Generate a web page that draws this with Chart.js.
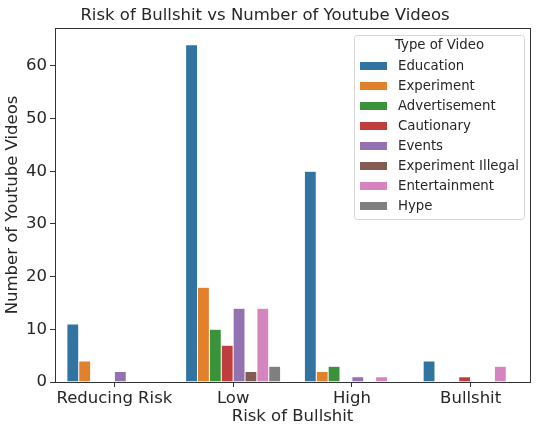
<!DOCTYPE html>
<html>
<head>
<meta charset="utf-8">
<script src="https://cdn.jsdelivr.net/npm/chart.js@4/dist/chart.umd.min.js"></script>
<style>
html,body{margin:0;padding:0;background:#fff;}
#wrap{width:547px;height:427px;}
</style>
</head>
<body>
<div id="wrap"><canvas id="c" width="547" height="427"></canvas></div>
<script>
const categories = ["Reducing Risk", "Low", "High", "Bullshit"];
const seriesNames = ["Education", "Experiment", "Advertisement", "Cautionary", "Events", "Experiment Illegal", "Entertainment", "Hype"];
const education     = [11, 64, 40, 4];
const experiment    = [4, 18, 2, 0];
const advertisement = [0, 10, 3, 0];
const cautionary    = [0, 7, 0, 1];
const events        = [2, 14, 1, 0];
const expIllegal    = [0, 2, 0, 0];
const entertainment = [0, 14, 1, 3];
const hype          = [0, 3, 0, 0];
const yTicks = [0, 10, 20, 30, 40, 50, 60];
const colors = ["#3274A1", "#E1812C", "#3A923A", "#C03D3E", "#9372B2", "#845B53", "#D684BD", "#7F7F7F"];
const seriesValues = [education, experiment, advertisement, cautionary, events, expIllegal, entertainment, hype];

const FONT = "'DejaVu Sans', sans-serif";
const TXT = '#262626';
const FS = 16.5;

const frame = {
  id: 'frame',
  afterDraw(chart) {
    const {ctx, chartArea: a} = chart;
    ctx.save();
    ctx.strokeStyle = '#333';
    ctx.lineWidth = 1;
    ctx.strokeRect(Math.round(a.left) + 0.5, Math.round(a.top) + 0.5, Math.round(a.right - a.left), Math.round(a.bottom - a.top));
    // legend
    const x0 = 354.5, y0 = 35.5, w = 170, h = 184;
    ctx.fillStyle = 'rgba(255,255,255,0.8)';
    ctx.strokeStyle = '#d6d6d6';
    ctx.beginPath();
    if (ctx.roundRect) ctx.roundRect(x0, y0, w, h, 3); else ctx.rect(x0, y0, w, h);
    ctx.fill(); ctx.stroke();
    ctx.fillStyle = TXT;
    ctx.font = "13.3px " + FONT;
    ctx.textBaseline = 'middle';
    ctx.textAlign = 'center';
    ctx.fillText('Type of Video', x0 + w / 2, 46);
    ctx.textAlign = 'left';
    chart.data.datasets.forEach((ds, i) => {
      const cy = 66 + i * 20;
      ctx.fillStyle = ds.backgroundColor;
      ctx.fillRect(360, cy - 4, 27, 8);
      ctx.fillStyle = TXT;
      ctx.fillText(ds.label, 398, cy + 1);
    });
    ctx.restore();
  }
};

new Chart(document.getElementById('c'), {
  type: 'bar',
  data: {
    labels: categories,
    datasets: seriesNames.map((n, i) => ({
      label: n,
      data: seriesValues[i],
      backgroundColor: colors[i],
      borderColor: 'rgba(255,255,255,0.5)',
      borderWidth: 0.5,
      categoryPercentage: 0.8,
      barPercentage: 1.0
    }))
  },
  options: {
    responsive: false,
    animation: false,
    devicePixelRatio: 1,
    layout: {padding: {left: 0, right: 17, top: 0, bottom: 0}},
    plugins: {
      legend: {display: false},
      tooltip: {enabled: false},
      title: {
        display: true,
        text: 'Risk of Bullshit vs Number of Youtube Videos',
        color: TXT,
        font: {family: FONT, size: FS, weight: 'normal'},
        padding: {top: 5.5, bottom: 2.7}
      }
    },
    scales: {
      x: {
        offset: true,
        grid: {display: true, offset: false, drawOnChartArea: false, drawTicks: true, tickLength: 5, color: '#333'},
        border: {display: true, color: '#333'},
        ticks: {color: TXT, font: {family: FONT, size: FS}, padding: 2, maxRotation: 0, minRotation: 0, autoSkip: false},
        title: {display: true, text: 'Risk of Bullshit', color: TXT, font: {family: FONT, size: FS}, padding: {top: 0, bottom: 0}},
        afterFit(s) { s.height = 45; s.paddingLeft = 0; s.paddingRight = 0; }
      },
      y: {
        min: 0,
        max: 67.2,
        afterBuildTicks(s) { s.ticks = yTicks.map(v => ({value: v})); },
        grid: {display: true, drawOnChartArea: false, drawTicks: true, tickLength: 5, color: '#333'},
        border: {display: true, color: '#333'},
        ticks: {color: TXT, font: {family: FONT, size: FS}, padding: 3},
        title: {display: true, text: 'Number of Youtube Videos', color: TXT, font: {family: FONT, size: FS}, padding: {top: 2.5, bottom: 2}},
        afterFit(s) { s.width = 55; s.paddingTop = 0; s.paddingBottom = 0; }
      }
    }
  },
  plugins: [frame]
});
</script>
</body>
</html>
